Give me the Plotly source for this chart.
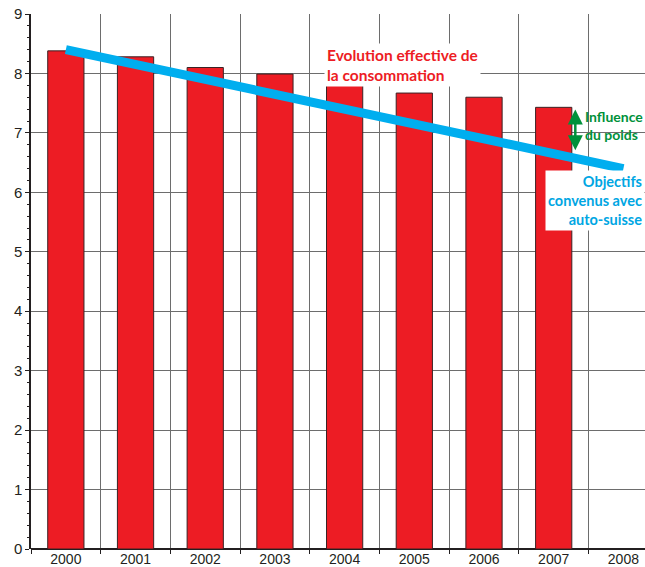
import plotly.graph_objects as go

years = ["2000", "2001", "2002", "2003", "2004", "2005", "2006", "2007", "2008"]
bar_years = ["2000", "2001", "2002", "2003", "2004", "2005", "2006", "2007"]
consumption = [8.38, 8.28, 8.10, 7.99, 7.82, 7.67, 7.60, 7.43]
target = [8.40, 8.15, 7.90, 7.65, 7.40, 7.15, 6.90, 6.65, 6.40]
y_ticks = [0, 1, 2, 3, 4, 5, 6, 7, 8, 9]

RED = "#ed1c24"
BLUE = "#00aeef"
GREEN = "#00913a"
DARK = "#231f20"
LBL = "Lato"

fig = go.Figure()
fig.add_trace(go.Bar(
    x=bar_years, y=consumption, width=0.52,
    marker=dict(color=RED, line=dict(color="#3a2325", width=1)),
    showlegend=False, hoverinfo="skip",
))
fig.add_trace(go.Scatter(
    x=years, y=target, mode="lines",
    line=dict(color=BLUE, width=9),
    showlegend=False, hoverinfo="skip",
))

# annotations
fig.add_annotation(
    x=3.70, y=8.15, xref="x", yref="y", xanchor="left", yanchor="middle",
    text="Evolution effective de<br>la consommation", showarrow=False, align="left",
    font=dict(family=LBL, size=15.5, color=RED, weight="bold"),
    bgcolor="white", borderpad=2,
)
fig.add_annotation(
    x=7.31, y=6.71, ax=7.31, ay=7.42, xref="x", yref="y", axref="x", ayref="y",
    text="", showarrow=True, arrowhead=2, startarrowhead=2, arrowside="end+start",
    arrowsize=1.2, startarrowsize=1.2, arrowwidth=2.5, arrowcolor=GREEN,
)
fig.add_annotation(
    x=1.0, y=7.13, xref="paper", yref="y", xanchor="right", yanchor="middle",
    text="Influence<br>du poids", showarrow=False, align="left",
    font=dict(family=LBL, size=14, color=GREEN, weight="bold"),
)
fig.add_annotation(
    x=1.0, y=5.86, xref="paper", yref="y", xanchor="right", yanchor="middle",
    text="Objectifs<br>convenus avec<br>auto-suisse", showarrow=False, align="right",
    font=dict(family=LBL, size=14.5, color="#00a6e3", weight="bold"),
    bgcolor="white", borderpad=2,
)

fig.update_layout(
    width=645, height=567,
    margin=dict(l=31, r=0, t=14, b=18),
    plot_bgcolor="white", paper_bgcolor="white",
    bargap=0.48,
)
fig.update_xaxes(
    type="category", categoryorder="array", categoryarray=years,
    range=[-0.5, 8.31], tickson="boundaries",
    showgrid=True, gridcolor="#6d6d6d", gridwidth=1.2,
    ticks="outside", ticklen=4, tickcolor=DARK,
    showline=False, zeroline=False,
    tickfont=dict(family="Liberation Sans", size=14, color=DARK),
)
fig.update_yaxes(
    range=[0, 9], tickvals=y_ticks,
    showgrid=True, gridcolor="#6d6d6d", gridwidth=1.2,
    ticks="outside", ticklen=4, tickcolor=DARK,
    showline=True, linecolor=DARK, linewidth=1.5,
    zeroline=True, zerolinecolor=DARK, zerolinewidth=1.5,
    minor=dict(dtick=0.2, ticks="outside", ticklen=2, tickcolor=DARK, showgrid=False),
    tickfont=dict(family="Liberation Sans", size=15, color=DARK),
)

fig.write_html("out.html")
